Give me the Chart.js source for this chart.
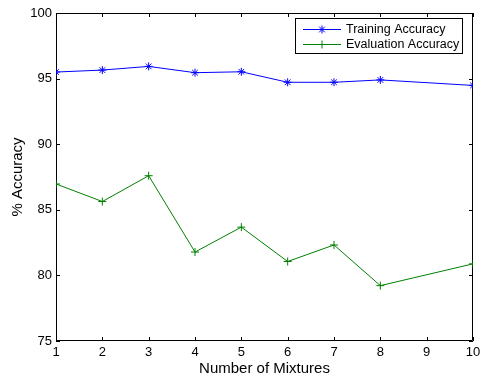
<!DOCTYPE html>
<html>
<head>
<meta charset="utf-8">
<script src="https://cdn.jsdelivr.net/npm/chart.js@4"></script>
<style>
  body { margin: 0; background: #fff; }
  canvas { display: block; }
</style>
</head>
<body>
<canvas id="canvas" width="482" height="378"></canvas>
<script>
const mixtures = [1, 2, 3, 4, 5, 6, 7, 8, 10];
const trainingAccuracy = [95.5, 95.65, 95.93, 95.45, 95.52, 94.72, 94.72, 94.9, 94.48];
const evaluationAccuracy = [86.97, 85.63, 87.6, 81.78, 83.68, 81.06, 82.32, 79.22, 80.88];
const xTicks = [1, 2, 3, 4, 5, 6, 7, 8, 9, 10];
const yTicks = [75, 80, 85, 90, 95, 100];

const FONT = "'Liberation Sans', Arial, Helvetica, sans-serif";

// matlab style box with inward ticks on all four sides
const axesBox = {
   id: "axesBox",
   beforeDatasetsDraw(chart) {
      const { ctx, chartArea: a, scales: { x, y } } = chart;
      ctx.save();
      ctx.strokeStyle = "#000";
      ctx.lineWidth = 1;
      ctx.beginPath();
      ctx.rect(a.left + 0.5, a.top + 0.5, a.right - a.left - 1, a.bottom - a.top - 1);
      const len = 4;
      xTicks.forEach(v => {
         const px = Math.round(x.getPixelForValue(v)) + 0.5;
         ctx.moveTo(px, a.bottom); ctx.lineTo(px, a.bottom - len);
         ctx.moveTo(px, a.top); ctx.lineTo(px, a.top + len);
      });
      yTicks.forEach(v => {
         const py = Math.round(y.getPixelForValue(v)) + 0.5;
         ctx.moveTo(a.left, py); ctx.lineTo(a.left + len, py);
         ctx.moveTo(a.right, py); ctx.lineTo(a.right - len, py);
      });
      ctx.stroke();
      ctx.restore();
   },
   afterDraw(chart) {
      // legend box in the top right corner
      const { ctx } = chart;
      const bx = 295.5, by = 18.5, bw = 167, bh = 35;
      ctx.save();
      ctx.fillStyle = "#fff";
      ctx.fillRect(bx, by, bw, bh);
      ctx.strokeStyle = "#000";
      ctx.lineWidth = 1;
      ctx.strokeRect(bx, by, bw, bh);
      chart.data.datasets.forEach((ds, i) => {
         const cy = 29 + i * 15;
         ctx.strokeStyle = ds.borderColor;
         ctx.lineWidth = 1;
         ctx.beginPath();
         ctx.moveTo(303, cy + 0.5); ctx.lineTo(341, cy + 0.5);
         ctx.stroke();
         Chart.helpers.drawPoint(ctx, {
            pointStyle: ds.pointStyle, radius: ds.pointRadius, borderWidth: 1
         }, 322, cy + 0.5);
         ctx.fillStyle = "#000";
         ctx.font = "12.5px " + FONT;
         ctx.textBaseline = "middle";
         ctx.textAlign = "left";
         ctx.fillText(ds.label, 346, cy + 1);
      });
      ctx.restore();
   }
};

const config = {
   type: "line",
   data: {
      datasets: [
         {
            label: "Training Accuracy",
            data: mixtures.map((m, i) => ({ x: m, y: trainingAccuracy[i] })),
            borderColor: "#0000ff",
            backgroundColor: "#0000ff",
            borderWidth: 1,
            pointStyle: "star",
            pointRadius: 4,
            pointBorderWidth: 1,
            fill: false,
            tension: 0
         },
         {
            label: "Evaluation Accuracy",
            data: mixtures.map((m, i) => ({ x: m, y: evaluationAccuracy[i] })),
            borderColor: "#008000",
            backgroundColor: "#008000",
            borderWidth: 1,
            pointStyle: "cross",
            pointRadius: 4,
            pointBorderWidth: 1,
            fill: false,
            tension: 0
         }
      ]
   },
   options: {
      responsive: false,
      animation: false,
      events: [],
      layout: { padding: { left: 0, right: 9, top: 13, bottom: 0 } },
      plugins: {
         legend: { display: false },
         tooltip: { enabled: false }
      },
      scales: {
         x: {
            type: "linear",
            min: 1,
            max: 10,
            afterBuildTicks: s => { s.ticks = xTicks.map(v => ({ value: v })); },
            afterFit: s => { s.height = 37; s.paddingLeft = 0; s.paddingRight = 0; },
            grid: { display: false, drawTicks: false },
            border: { display: false },
            ticks: {
               color: "#000",
               padding: 4,
               maxRotation: 0,
               font: { family: FONT, size: 13 }
            },
            title: {
               display: true,
               text: "Number of Mixtures",
               color: "#000",
               padding: { top: 1, bottom: 0 },
               font: { family: FONT, size: 15 }
            }
         },
         y: {
            min: 75,
            max: 100,
            afterBuildTicks: s => { s.ticks = yTicks.map(v => ({ value: v })); },
            afterFit: s => { s.width = 56; s.paddingTop = 0; s.paddingBottom = 0; },
            grid: { display: false, drawTicks: false },
            border: { display: false },
            ticks: {
               color: "#000",
               padding: 4,
               font: { family: FONT, size: 13 }
            },
            title: {
               display: true,
               text: "% Accuracy",
               color: "#000",
               padding: { top: 9, bottom: 0 },
               font: { family: FONT, size: 15 }
            }
         }
      }
   },
   plugins: [axesBox]
};

new Chart(document.getElementById("canvas"), config);
</script>
</body>
</html>
